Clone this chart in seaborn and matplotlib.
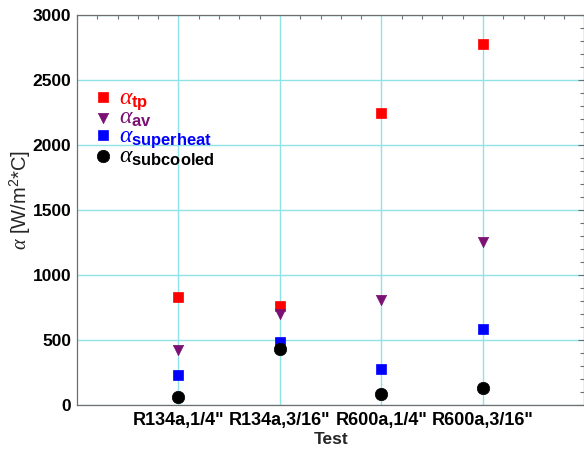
import matplotlib
matplotlib.use("Agg")
import matplotlib.pyplot as plt
import seaborn as sns
import pandas as pd
from matplotlib.ticker import MultipleLocator

tests = ['R134a,1/4"', 'R134a,3/16"', 'R600a,1/4"', 'R600a,3/16"']
alpha_tp = [830, 761, 2250, 2780]
alpha_av = [420, 700, 805, 1256]
alpha_superheat = [234, 486, 277, 585]
alpha_subcooled = [64, 430, 85, 131]

series_names = ["tp", "av", "superheat", "subcooled"]
series_values = [alpha_tp, alpha_av, alpha_superheat, alpha_subcooled]
series_colors = ["#ff0000", "#7b1075", "#0000ff", "#000000"]
series_markers = ["s", "v", "s", "o"]
series_sizes = [55, 55, 55, 80]

sns.set_style("white")
plt.rcParams["font.family"] = ["Liberation Sans", "DejaVu Sans"]
plt.rcParams["mathtext.fontset"] = "custom"
plt.rcParams["mathtext.rm"] = "Liberation Sans"
plt.rcParams["mathtext.it"] = "Liberation Serif:italic"
plt.rcParams["mathtext.bf"] = "Liberation Sans:bold"

fig = plt.figure(figsize=(5.84, 4.5), dpi=100)
ax = fig.add_axes([0.1318, 0.1, 0.8690, 0.8656])

for name, vals, col, mk, sz in zip(series_names, series_values, series_colors,
                                    series_markers, series_sizes):
    df = pd.DataFrame({"Test": tests, "value": vals})
    sns.scatterplot(data=df, x="Test", y="value", ax=ax, color=col, marker=mk,
                    s=sz, edgecolor=col, linewidth=0.5,
                    label=r"$\alpha_{\mathbf{%s}}$" % name, zorder=3)

ax.set_xlim(-1, 4)
ax.set_ylim(0, 3000)
ax.yaxis.set_major_locator(MultipleLocator(500))
ax.yaxis.set_minor_locator(MultipleLocator(100))
ax.xaxis.set_minor_locator(MultipleLocator(0.2))

gridc = "#8fe3e6"
ax.grid(True, which="major", color=gridc, linewidth=1.0, zorder=0)
ax.set_axisbelow(True)

for sp in ax.spines.values():
    sp.set_color("#6f6f6f")
    sp.set_linewidth(0.9)

ax.tick_params(which="both", direction="in", top=True, right=True,
               colors="#6f6f6f", labelcolor="black")
ax.tick_params(axis="x", which="major", length=0, labelsize=13, pad=5)
ax.tick_params(axis="y", which="major", length=4, labelsize=12.5, pad=4)
ax.tick_params(which="minor", length=3, width=0.8)
for lab in ax.get_xticklabels() + ax.get_yticklabels():
    lab.set_fontweight("bold")

ax.set_xlabel("Test", fontsize=12.5, fontweight="bold", labelpad=2)
ax.set_ylabel(r"$\alpha$ [W/m$^{2}$*C]", fontsize=14.5)
ax.yaxis.set_label_coords(-0.086, 0.527)

leg = ax.legend(loc="upper left", bbox_to_anchor=(-0.005, 0.86), frameon=False,
                fontsize=17, handletextpad=0.2, labelspacing=-0.2,
                borderaxespad=0.3, handlelength=1.0,
                labelcolor=series_colors)

fig.savefig("out.png", dpi=100)
